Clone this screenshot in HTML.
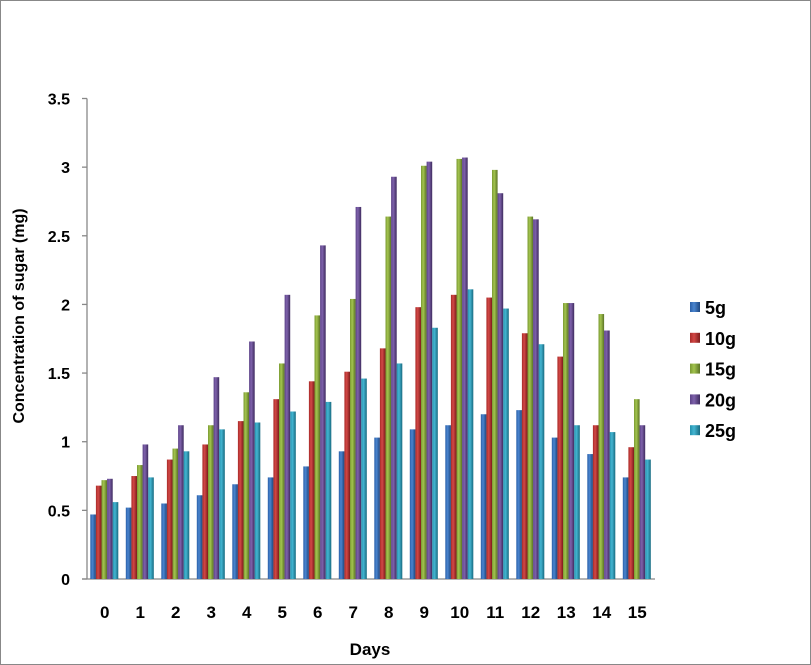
<!DOCTYPE html>
<html><head><meta charset="utf-8"><style>
body{margin:0;background:#fff;font-family:"Liberation Sans",Arial,sans-serif}
#frame{position:absolute;left:0;top:0;width:809px;height:663px;border:1px solid #888;}
svg text{font-family:"Liberation Sans",Arial,sans-serif;font-weight:bold;font-size:16px;fill:#000}
</style></head><body>
<div id="frame"></div>
<svg id="chart" width="811" height="665" style="position:absolute;left:0;top:0">
<defs>
<linearGradient id="g0" x1="0" x2="1"><stop offset="0" stop-color="#2a5fa8"/><stop offset=".4" stop-color="#4a85cf"/><stop offset="1" stop-color="#1d467f"/></linearGradient>
<linearGradient id="g1" x1="0" x2="1"><stop offset="0" stop-color="#a82a28"/><stop offset=".4" stop-color="#d24846"/><stop offset="1" stop-color="#7d1c1b"/></linearGradient>
<linearGradient id="g2" x1="0" x2="1"><stop offset="0" stop-color="#7a9a32"/><stop offset=".4" stop-color="#a2c34e"/><stop offset="1" stop-color="#5a7324"/></linearGradient>
<linearGradient id="g3" x1="0" x2="1"><stop offset="0" stop-color="#5c4287"/><stop offset=".4" stop-color="#7e62ab"/><stop offset="1" stop-color="#3e2b5e"/></linearGradient>
<linearGradient id="g4" x1="0" x2="1"><stop offset="0" stop-color="#2391ad"/><stop offset=".4" stop-color="#44b5d1"/><stop offset="1" stop-color="#176a80"/></linearGradient>
</defs>
</svg>
<script>
const categories=["0","1","2","3","4","5","6","7","8","9","10","11","12","13","14","15"];
const seriesNames=["5g","10g","15g","20g","25g"];
const s5=[0.47,0.52,0.55,0.61,0.69,0.74,0.82,0.93,1.03,1.09,1.12,1.20,1.23,1.03,0.91,0.74];
const s10=[0.68,0.75,0.87,0.98,1.15,1.31,1.44,1.51,1.68,1.98,2.07,2.05,1.79,1.62,1.12,0.96];
const s15=[0.72,0.83,0.95,1.12,1.36,1.57,1.92,2.04,2.64,3.01,3.06,2.98,2.64,2.01,1.93,1.31];
const s20=[0.73,0.98,1.12,1.47,1.73,2.07,2.43,2.71,2.93,3.04,3.07,2.81,2.62,2.01,1.81,1.12];
const s25=[0.56,0.74,0.93,1.09,1.14,1.22,1.29,1.46,1.57,1.83,2.11,1.97,1.71,1.12,1.07,0.87];
const yTicks=[0,0.5,1,1.5,2,2.5,3,3.5];
const tickLabels=["0","0.5","1","1.5","2","2.5","3","3.5"];
const series=[s5,s10,s15,s20,s25];
const NS="http://www.w3.org/2000/svg";
const svg=document.getElementById('chart');
const X0=87,X1=655,Y0=579,YTOP=98.5,YMAX=3.5;
const gw=(X1-X0)/categories.length, bw=5.6, off=3.3;
const y=v=>Y0-(v/YMAX)*(Y0-YTOP);
const xg=i=>X0+i*gw;
function mk(t,a){const e=document.createElementNS(NS,t);for(const k in a)e.setAttribute(k,a[k]);svg.appendChild(e);return e;}
let ax=mk('line',{x1:X0,y1:YTOP,x2:X0,y2:Y0,stroke:'#888','stroke-width':1.3});


let bx=mk('line',{x1:X0-5,y1:Y0,x2:X1,y2:Y0,stroke:'#888','stroke-width':1.3});


yTicks.forEach((v,i)=>{
 const tk=mk('line',{x1:X0-5,y1:y(v),x2:X0,y2:y(v),stroke:'#888','stroke-width':1.3});
 
 
 const t=mk('text',{x:70,y:y(v)+6,'text-anchor':'end'});t.textContent=tickLabels[i];
 
 
});
categories.forEach((c,i)=>{
 const t=mk('text',{x:xg(i)+gw/2,y:618,'text-anchor':'middle',style:'font-size:17px'});t.textContent=c;
 
 
 series.forEach((s,k)=>{
  const r=mk('rect',{x:xg(i)+off+k*bw,y:y(s[i]),width:bw,height:Y0-y(s[i]),fill:'url(#g'+k+')'});
  
  
 });
});
const xt=mk('text',{x:370,y:655,'text-anchor':'middle',style:'font-size:17px'});xt.textContent='Days';


const yt=mk('text',{x:0,y:0,'text-anchor':'middle',transform:'translate(24,316) rotate(-90)'});yt.textContent='Concentration of sugar (mg)';


seriesNames.forEach((n,k)=>{
 const ly=307+k*30.8;
 const r=mk('rect',{x:690,y:ly-5,width:10,height:10,fill:'url(#g'+k+')'});
 
 
 const t=mk('text',{x:705,y:ly+7,style:'font-size:18px'});t.textContent=n;
 
 
});
</script>
</body></html>
